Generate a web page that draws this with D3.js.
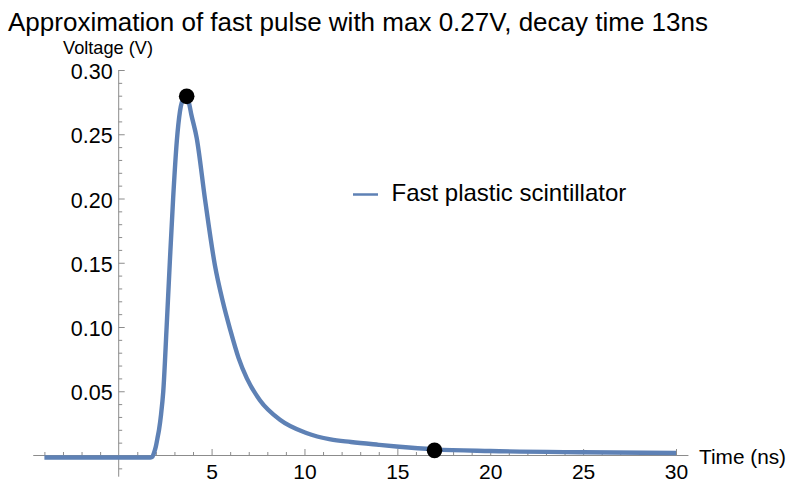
<!DOCTYPE html>
<html>
<head>
<meta charset="utf-8">
<script src="https://cdn.jsdelivr.net/npm/d3@7"></script>
<style>
  html, body { margin: 0; padding: 0; background: #fff; }
  svg { display: block; font-family: "Liberation Sans", Arial, Helvetica, sans-serif; }
</style>
</head>
<body>
<svg id="chart" width="792" height="482"></svg>
<script>
// ---- data ----
const titleText = "Approximation of fast pulse with max 0.27V, decay time 13ns";
const yLabel = "Voltage (V)";
const xLabel = "Time (ns)";
const seriesName = "Fast plastic scintillator";

const timeValues = [-4, 1.7, 1.8, 1.9, 2.0, 2.08, 2.17, 2.28, 2.40, 2.58, 2.75, 2.93, 3.13, 3.30, 3.50, 3.62, 3.78, 3.90, 4.20, 4.65, 5.18, 5.60, 6.00, 6.45, 6.90, 7.60, 8.70, 10.1, 11.4, 12.5, 14.0, 15.1, 17.0, 20.0, 25.0, 30.0];
const voltValues = [-0.0015, -0.0015, -0.0012, 0.002, 0.007, 0.013, 0.020, 0.032, 0.050, 0.100, 0.150, 0.200, 0.245, 0.268, 0.2785, 0.2800, 0.2745, 0.266, 0.247, 0.199, 0.148, 0.120, 0.098, 0.076, 0.060, 0.043, 0.0276, 0.0175, 0.0125, 0.0105, 0.0083, 0.0068, 0.0048, 0.0035, 0.0025, 0.0019];

const markerTimes = [3.66, 17.0];
const markerVolts = [0.2795, 0.004];

const xMajorTicks = [5, 10, 15, 20, 25, 30];
const xMajorLabels = ["5", "10", "15", "20", "25", "30"];
const xMinorTicks = [-4, -3, -2, -1, 1, 2, 3, 4, 6, 7, 8, 9, 11, 12, 13, 14, 16, 17, 18, 19, 21, 22, 23, 24, 26, 27, 28, 29, 30];
const yMajorTicks = [0.05, 0.10, 0.15, 0.20, 0.25, 0.30];
const yMajorLabels = ["0.05", "0.10", "0.15", "0.20", "0.25", "0.30"];
const yMinorTicks = [-0.01, 0.01, 0.02, 0.03, 0.04, 0.06, 0.07, 0.08, 0.09, 0.11, 0.12, 0.13, 0.14, 0.16, 0.17, 0.18, 0.19, 0.21, 0.22, 0.23, 0.24, 0.26, 0.27, 0.28, 0.29];
const xAxisExtent = [-4.6, 30.67];
const yAxisExtent = [-0.0165, 0.30];

// ---- drawing ----
const svg = d3.select("#chart");
svg.append("rect").attr("width", 792).attr("height", 482).attr("fill", "#fff");

const x = d3.scaleLinear().domain([0, 30]).range([118.7, 676]);
const y = d3.scaleLinear().domain([0, 0.30]).range([455.5, 70]);
const axisColor = "#8c8c8c";

// x axis
const gx = svg.append("g").attr("transform", `translate(0,${y(0)})`);
gx.append("line")
  .attr("x1", x(xAxisExtent[0])).attr("x2", x(xAxisExtent[1]))
  .attr("stroke", axisColor).attr("stroke-width", 1);
const xMinorAxis = d3.axisBottom(x).tickValues(xMinorTicks).tickSize(-3.5).tickFormat("");
gx.append("g").call(xMinorAxis).call(g => g.select(".domain").remove())
  .selectAll("line").attr("stroke", axisColor);
const xMajorAxis = d3.axisBottom(x).tickValues(xMajorTicks).tickSize(-6.5)
  .tickFormat((d, i) => xMajorLabels[i]).tickPadding(9);
const gxm = gx.append("g").call(xMajorAxis).call(g => g.select(".domain").remove());
gxm.selectAll("line").attr("stroke", axisColor);
gxm.selectAll("text").attr("fill", "#000").attr("font-size", 21)
  .attr("font-family", "Liberation Sans, Arial, sans-serif");

// y axis
const gy = svg.append("g").attr("transform", `translate(${x(0)},0)`);
gy.append("line")
  .attr("y1", y(yAxisExtent[0])).attr("y2", y(yAxisExtent[1]))
  .attr("stroke", axisColor).attr("stroke-width", 1);
const yMinorAxis = d3.axisLeft(y).tickValues(yMinorTicks).tickSize(-3.5).tickFormat("");
gy.append("g").call(yMinorAxis).call(g => g.select(".domain").remove())
  .selectAll("line").attr("stroke", axisColor);
const yMajorAxis = d3.axisLeft(y).tickValues(yMajorTicks).tickSize(-6)
  .tickFormat((d, i) => yMajorLabels[i]).tickPadding(6);
const gym = gy.append("g").call(yMajorAxis).call(g => g.select(".domain").remove());
gym.selectAll("line").attr("stroke", axisColor);
gym.selectAll("text").attr("fill", "#000").attr("font-size", 21.5).attr("dy", "0.4em")
  .attr("font-family", "Liberation Sans, Arial, sans-serif");

// curve
const pts = timeValues.map((t, i) => [t, voltValues[i]]);
const line = d3.line().x(d => x(d[0])).y(d => y(d[1])).curve(d3.curveMonotoneX);
svg.append("path").datum(pts).attr("d", line)
  .attr("fill", "none").attr("stroke", "#5E81B5").attr("stroke-width", 4.4)
  .attr("stroke-linejoin", "round").attr("stroke-linecap", "butt");

// markers
svg.selectAll("circle.mark").data(markerTimes.map((t, i) => [t, markerVolts[i]]))
  .join("circle").attr("class", "mark")
  .attr("cx", d => x(d[0])).attr("cy", d => y(d[1])).attr("r", 7.8).attr("fill", "#000");

// labels
svg.append("text").attr("x", 8).attr("y", 31).attr("font-size", 26).attr("fill", "#000").text(titleText);
svg.append("text").attr("x", 63).attr("y", 54).attr("font-size", 18.2).attr("fill", "#000").text(yLabel);
svg.append("text").attr("x", 699).attr("y", 463.5).attr("font-size", 20.8).attr("fill", "#000").text(xLabel);

// legend
svg.append("line").attr("x1", 353).attr("x2", 378).attr("y1", 194.5).attr("y2", 194.5)
  .attr("stroke", "#5E81B5").attr("stroke-width", 2.5);
svg.append("text").attr("x", 391.5).attr("y", 201).attr("font-size", 24).attr("fill", "#000").text(seriesName);
</script>
</body>
</html>
